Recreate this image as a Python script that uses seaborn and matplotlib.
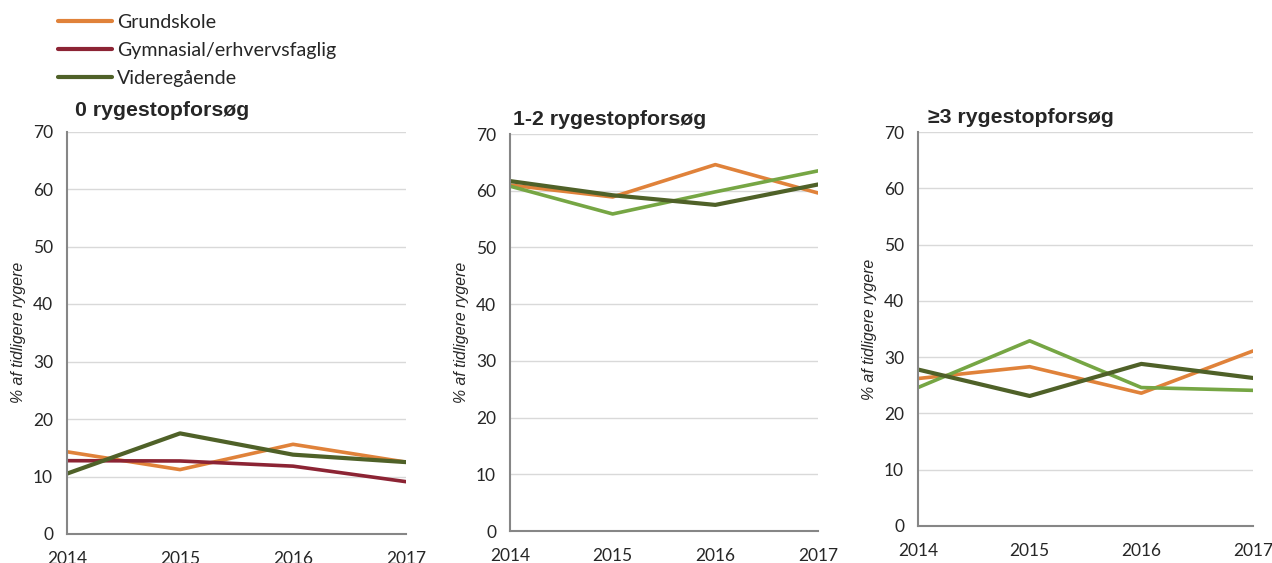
import pandas as pd
import matplotlib.pyplot as plt
import seaborn as sns
from matplotlib.lines import Line2D

# data
years = [2014, 2015, 2016, 2017]
grupper = ["Grundskole", "Gymnasial/erhvervsfaglig", "Videregående"]
titler = ["0 rygestopforsøg", "1-2 rygestopforsøg", "≥3 rygestopforsøg"]

p0_grundskole = [14.3, 11.2, 15.6, 12.5]
p0_gymnasial = [12.75, 12.7, 11.8, 9.1]
p0_videregaaende = [10.5, 17.5, 13.8, 12.5]

p1_grundskole = [61.0, 58.9, 64.6, 59.6]
p1_gymnasial = [60.8, 55.9, 59.8, 63.5]
p1_videregaaende = [61.7, 59.2, 57.5, 61.1]

p2_grundskole = [26.2, 28.3, 23.6, 31.1]
p2_gymnasial = [24.6, 32.9, 24.6, 24.1]
p2_videregaaende = [27.8, 23.1, 28.8, 26.3]

paneler = [
    [p0_grundskole, p0_gymnasial, p0_videregaaende],
    [p1_grundskole, p1_gymnasial, p1_videregaaende],
    [p2_grundskole, p2_gymnasial, p2_videregaaende],
]

orange = "#E0823A"
roed = "#8C2434"
moerkgroen = "#4F6128"
lysgroen = "#76A644"
paletter = [
    {grupper[0]: orange, grupper[1]: roed, grupper[2]: moerkgroen},
    {grupper[0]: orange, grupper[1]: lysgroen, grupper[2]: moerkgroen},
    {grupper[0]: orange, grupper[1]: lysgroen, grupper[2]: moerkgroen},
]

sns.set_style("white")
plt.rcParams['font.family'] = ['Lato', 'DejaVu Sans']

W, H = 1272, 563
fig = plt.figure(figsize=(W / 100, H / 100), dpi=100)
positioner = [
    [67 / W, 29 / H, 339 / W, 402.5 / H],
    [510 / W, 32 / H, 308 / W, 397 / H],
    [918 / W, 37 / H, 335 / W, 394 / H],
]
# titel-position (venstre kant, grundlinje) i pixel
titel_pos = [(75, 116), (513, 125), (928, 123)]

akse_farve = "#868686"

for i in range(3):
    ax = fig.add_axes(positioner[i])
    rows = []
    for g, vals in zip(grupper, paneler[i]):
        for y, v in zip(years, vals):
            rows.append({"aar": y, "pct": v, "gruppe": g})
    df = pd.DataFrame(rows)
    sns.lineplot(data=df, x="aar", y="pct", hue="gruppe", hue_order=grupper,
                 palette=paletter[i], linewidth=2.6, ax=ax, legend=False)
    ax.lines[2].set_linewidth(3.0)
    ax.set_xlim(2014, 2017)
    ax.set_ylim(0, 70)
    ax.set_xticks(years)
    ax.set_yticks(range(0, 71, 10))
    ax.yaxis.grid(True, color="#D9D9D9", linewidth=1)
    ax.set_axisbelow(True)
    for s in ["top", "right"]:
        ax.spines[s].set_visible(False)
    for s in ["left", "bottom"]:
        ax.spines[s].set_color(akse_farve)
        ax.spines[s].set_linewidth(1.5)
    ax.tick_params(axis="x", direction="inout", length=8, color=akse_farve,
                   width=1.5, labelsize=12.5, pad=8)
    ax.tick_params(axis="y", direction="out", length=5, color=akse_farve,
                   width=1.5, labelsize=12.5, pad=5)
    ax.set_xlabel("")
    ax.set_ylabel("% af tidligere rygere", fontsize=11.4, fontstyle="italic",
                  family="Liberation Sans", labelpad=5)
    tx, ty = titel_pos[i]
    fig.text(tx / W, 1 - ty / H, titler[i], fontsize=15.3, fontweight="bold",
             family="Liberation Sans", ha="left", va="baseline")

handles = [Line2D([], [], color=c, linewidth=3) for c in [orange, roed, moerkgroen]]
fig.legend(handles, grupper, loc="upper left", bbox_to_anchor=(58 / W, 1 - 14 / H),
           frameon=False, fontsize=14.1, handlelength=2.75, handletextpad=0.25,
           labelspacing=0.56, borderpad=0, borderaxespad=0)

plt.savefig("out.png", dpi=100)
